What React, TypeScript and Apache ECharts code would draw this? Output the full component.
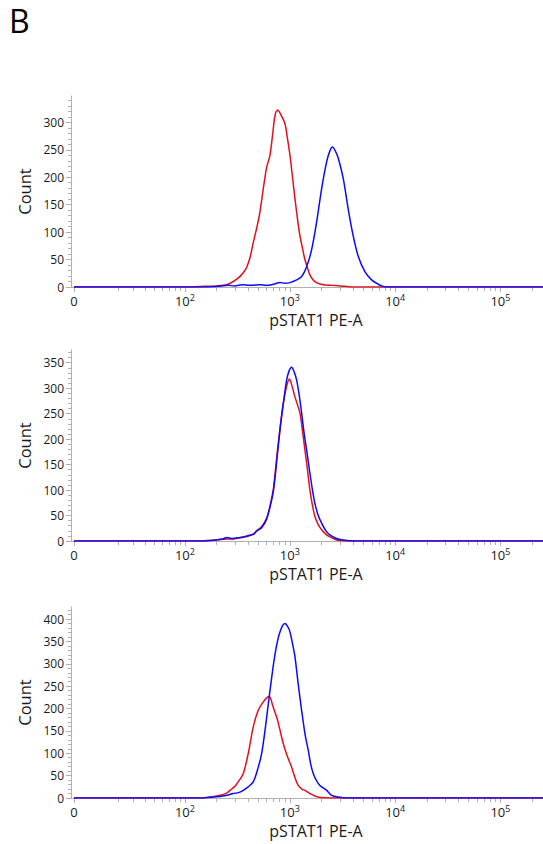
import React, { useEffect, useRef } from 'react';
import * as echarts from 'echarts';

const FONT = '"Open Sans", "Noto Sans", sans-serif';
const panelLabel = 'B';
const xAxisTitle = 'pSTAT1 PE-A';
const yAxisTitle = 'Count';

// x axis (fluorescence intensity, biexponential display)
const xMajorValues = [0, 100, 1000, 10000, 100000];
const xMajorBase = ['0', '10', '10', '10', '10'];
const xMajorExp = ['', '2', '3', '4', '5'];
const xMinorValues = [
  20, 30, 40, 50, 60, 70, 80, 90,
  200, 300, 400, 500, 600, 700, 800, 900,
  2000, 3000, 4000, 5000, 6000, 7000, 8000, 9000,
  20000, 30000, 40000, 50000, 60000, 70000, 80000, 90000,
  200000,
];

// y axis per panel
const yMaxes = [348, 375, 427];
const yMajorStep = 50;
const yMinorStep = 10;

// [intensity, count]
const panel1Red = [
  [0, 0], [100, 0], [140, 1], [200, 2], [251, 4], [290, 10], [330, 18], [361, 26], [389, 36], [420, 55],
  [449, 81], [485, 108], [520, 137], [560, 180], [602, 218], [647, 240], [690, 282], [722, 312], [760, 322],
  [790, 320], [830, 312], [898, 298], [950, 270], [1001, 241], [1060, 200], [1118, 161], [1180, 125],
  [1247, 93], [1320, 70], [1390, 50], [1470, 35], [1551, 22], [1660, 13], [1795, 8], [2075, 4], [2500, 3],
  [2990, 2], [4000, 0], [262144, 0],
];
const panel1Blue = [
  [0, 0], [140, 0], [200, 1], [260, 3], [300, 2], [350, 4], [420, 3], [520, 4], [600, 3], [700, 5], [805, 8],
  [900, 7], [1001, 8], [1160, 13], [1294, 19], [1443, 37], [1610, 68], [1795, 118], [2003, 179], [2235, 228],
  [2400, 248], [2540, 255], [2700, 248], [2880, 235], [3213, 198], [3583, 142], [3998, 93], [4460, 56],
  [5162, 28], [5978, 13], [6908, 5], [7703, 1], [9000, 0], [262144, 0],
];
const panel2Red = [
  [0, 0], [140, 0], [162, 1], [200, 2], [251, 4], [290, 4], [336, 7], [389, 10], [450, 14], [484, 20],
  [539, 28], [602, 45], [650, 70], [700, 105], [760, 175], [810, 225], [865, 270], [930, 303], [990, 318],
  [1030, 310], [1118, 283], [1247, 251], [1320, 215], [1390, 179], [1470, 140], [1551, 100], [1640, 70],
  [1730, 48], [1860, 32], [2003, 22], [2200, 13], [2402, 8], [2700, 3], [2990, 1], [4000, 0], [262144, 0],
];
const panel2Blue = [
  [0, 0], [140, 0], [180, 1], [230, 4], [251, 7], [280, 5], [310, 6], [350, 7], [389, 9], [450, 13],
  [484, 20], [539, 26], [602, 43], [650, 68], [700, 100], [760, 168], [810, 222], [865, 268], [930, 315],
  [980, 333], [1040, 341], [1100, 332], [1160, 316], [1230, 285], [1294, 251], [1370, 210], [1443, 179],
  [1551, 133], [1640, 100], [1730, 74], [1860, 50], [2003, 35], [2200, 20], [2402, 12], [2700, 6],
  [2990, 3], [3500, 1], [4500, 0], [262144, 0],
];
const panel3Red = [
  [0, 0], [140, 0], [174, 2], [217, 6], [250, 11], [270, 17], [300, 26], [323, 36], [361, 55], [402, 99],
  [449, 159], [501, 196], [559, 215], [610, 225], [640, 227], [690, 205], [749, 181], [800, 155], [865, 122],
  [950, 92], [1040, 69], [1120, 45], [1201, 28], [1300, 20], [1390, 17], [1500, 12], [1610, 8], [1859, 2],
  [2500, 0], [262144, 0],
];
const panel3Blue = [
  [0, 0], [140, 0], [187, 2], [240, 5], [290, 10], [336, 13], [402, 25], [449, 36], [501, 69], [540, 100],
  [580, 150], [620, 205], [660, 255], [700, 300], [740, 335], [790, 365], [850, 385], [900, 390], [960, 382],
  [1001, 372], [1060, 345], [1118, 316], [1200, 255], [1294, 196], [1400, 140], [1495, 107], [1580, 75],
  [1667, 55], [1800, 38], [1930, 28], [2235, 17], [2493, 6], [2880, 2], [3500, 0], [262144, 0],
];

const panels = [
  { red: panel1Red, blue: panel1Blue },
  { red: panel2Red, blue: panel2Blue },
  { red: panel3Red, blue: panel3Blue },
];

const RED = '#e3101c';
const BLUE = '#0a0aff';
const AXIS = '#b0b0b0';
const TEXT = '#1a1a1a';

// biexponential-like (arcsinh) display transform, in decades
const T = (v: number) => Math.asinh(v / 17.8) / Math.LN10;

const range = (step: number, max: number) => {
  const out: number[] = [];
  for (let v = 0; v <= max; v += step) out.push(v);
  return out;
};

export default function App() {
  const ref = useRef<HTMLDivElement>(null);

  useEffect(() => {
    if (!ref.current) return;
    const chart = echarts.init(ref.current, undefined, { renderer: 'svg' });
    const tops = [96, 350, 607];
    const xMajorT = xMajorValues.map(T);
    const xMinorT = xMinorValues.map(T);
    const xMin = -0.028;
    const xMax = 4.455;

    const grid: any[] = [];
    const xAxis: any[] = [];
    const yAxis: any[] = [];
    const series: any[] = [];

    tops.forEach((top, i) => {
      grid.push({ left: 71, top, width: 472, height: 191 });
      xAxis.push({
        type: 'value', gridIndex: i, min: xMin, max: xMax, position: 'bottom',
        axisLine: { onZero: false, lineStyle: { color: AXIS, width: 1 } },
        axisTick: { customValues: xMajorT, length: 5, lineStyle: { color: AXIS } },
        axisLabel: {
          customValues: xMajorT,
          margin: 6,
          formatter: (val: number) => {
            const k = xMajorT.findIndex((t) => Math.abs(t - val) < 1e-6);
            if (k < 0) return '';
            return xMajorExp[k] ? `{b|${xMajorBase[k]}}{s|${xMajorExp[k]}}` : `{b|${xMajorBase[k]}}`;
          },
          rich: {
            b: { fontSize: 13, lineHeight: 14, fontFamily: FONT, color: TEXT, verticalAlign: 'bottom' },
            s: { fontSize: 9, lineHeight: 10, fontFamily: FONT, color: TEXT, verticalAlign: 'top' },
          },
        },
        splitLine: { show: false },
        name: xAxisTitle, nameLocation: 'middle', nameGap: 25,
        nameTextStyle: { fontSize: 16, color: TEXT, fontFamily: FONT, padding: [0, 0, 0, 18] },
      });
      xAxis.push({
        type: 'value', gridIndex: i, min: xMin, max: xMax, position: 'bottom', offset: 0,
        axisLine: { show: false, onZero: false },
        axisTick: { customValues: xMinorT, length: 4, lineStyle: { color: AXIS } },
        axisLabel: { show: false },
        splitLine: { show: false },
      });
      const majors = range(yMajorStep, yMaxes[i]);
      const minors = range(yMinorStep, yMaxes[i]);
      yAxis.push({
        type: 'value', gridIndex: i, min: 0, max: yMaxes[i],
        axisLine: { show: true, onZero: false, lineStyle: { color: AXIS, width: 1 } },
        axisTick: { show: true, customValues: majors, length: 5, lineStyle: { color: AXIS } },
        axisLabel: { customValues: majors, fontSize: 12, color: TEXT, fontFamily: FONT, margin: 7 },
        splitLine: { show: false },
        name: yAxisTitle, nameLocation: 'middle', nameGap: 34, nameRotate: 90,
        nameTextStyle: { fontSize: 16.5, color: TEXT, fontFamily: FONT },
      });
      yAxis.push({
        type: 'value', gridIndex: i, min: 0, max: yMaxes[i], position: 'left', offset: 0,
        axisLine: { show: false, onZero: false },
        axisTick: { show: true, customValues: minors, length: 3, lineStyle: { color: AXIS } },
        axisLabel: { show: false },
        splitLine: { show: false },
      });
      const p = panels[i];
      [
        { data: p.red, color: RED, z: 3 },
        { data: p.blue, color: BLUE, z: 4 },
      ].forEach((s) => {
        series.push({
          type: 'line', xAxisIndex: 2 * i, yAxisIndex: 2 * i,
          data: s.data.map(([v, c]) => [T(v), c]),
          showSymbol: false, symbol: 'none', smooth: 0.3, z: s.z,
          lineStyle: { color: s.color, width: 1.5 },
        });
      });
    });

    chart.setOption({
      animation: false,
      backgroundColor: '#ffffff',
      grid, xAxis, yAxis, series,
      graphic: [
        {
          type: 'text', left: 9, top: 4,
          style: { text: panelLabel, fontSize: 32, fontFamily: FONT, fill: '#000' },
        },
      ],
    });
    return () => chart.dispose();
  }, []);

  return (
    <div
      ref={ref}
      style={{ position: 'fixed', left: 0, top: 0, width: 543, height: 844, background: '#fff' }}
    />
  );
}
